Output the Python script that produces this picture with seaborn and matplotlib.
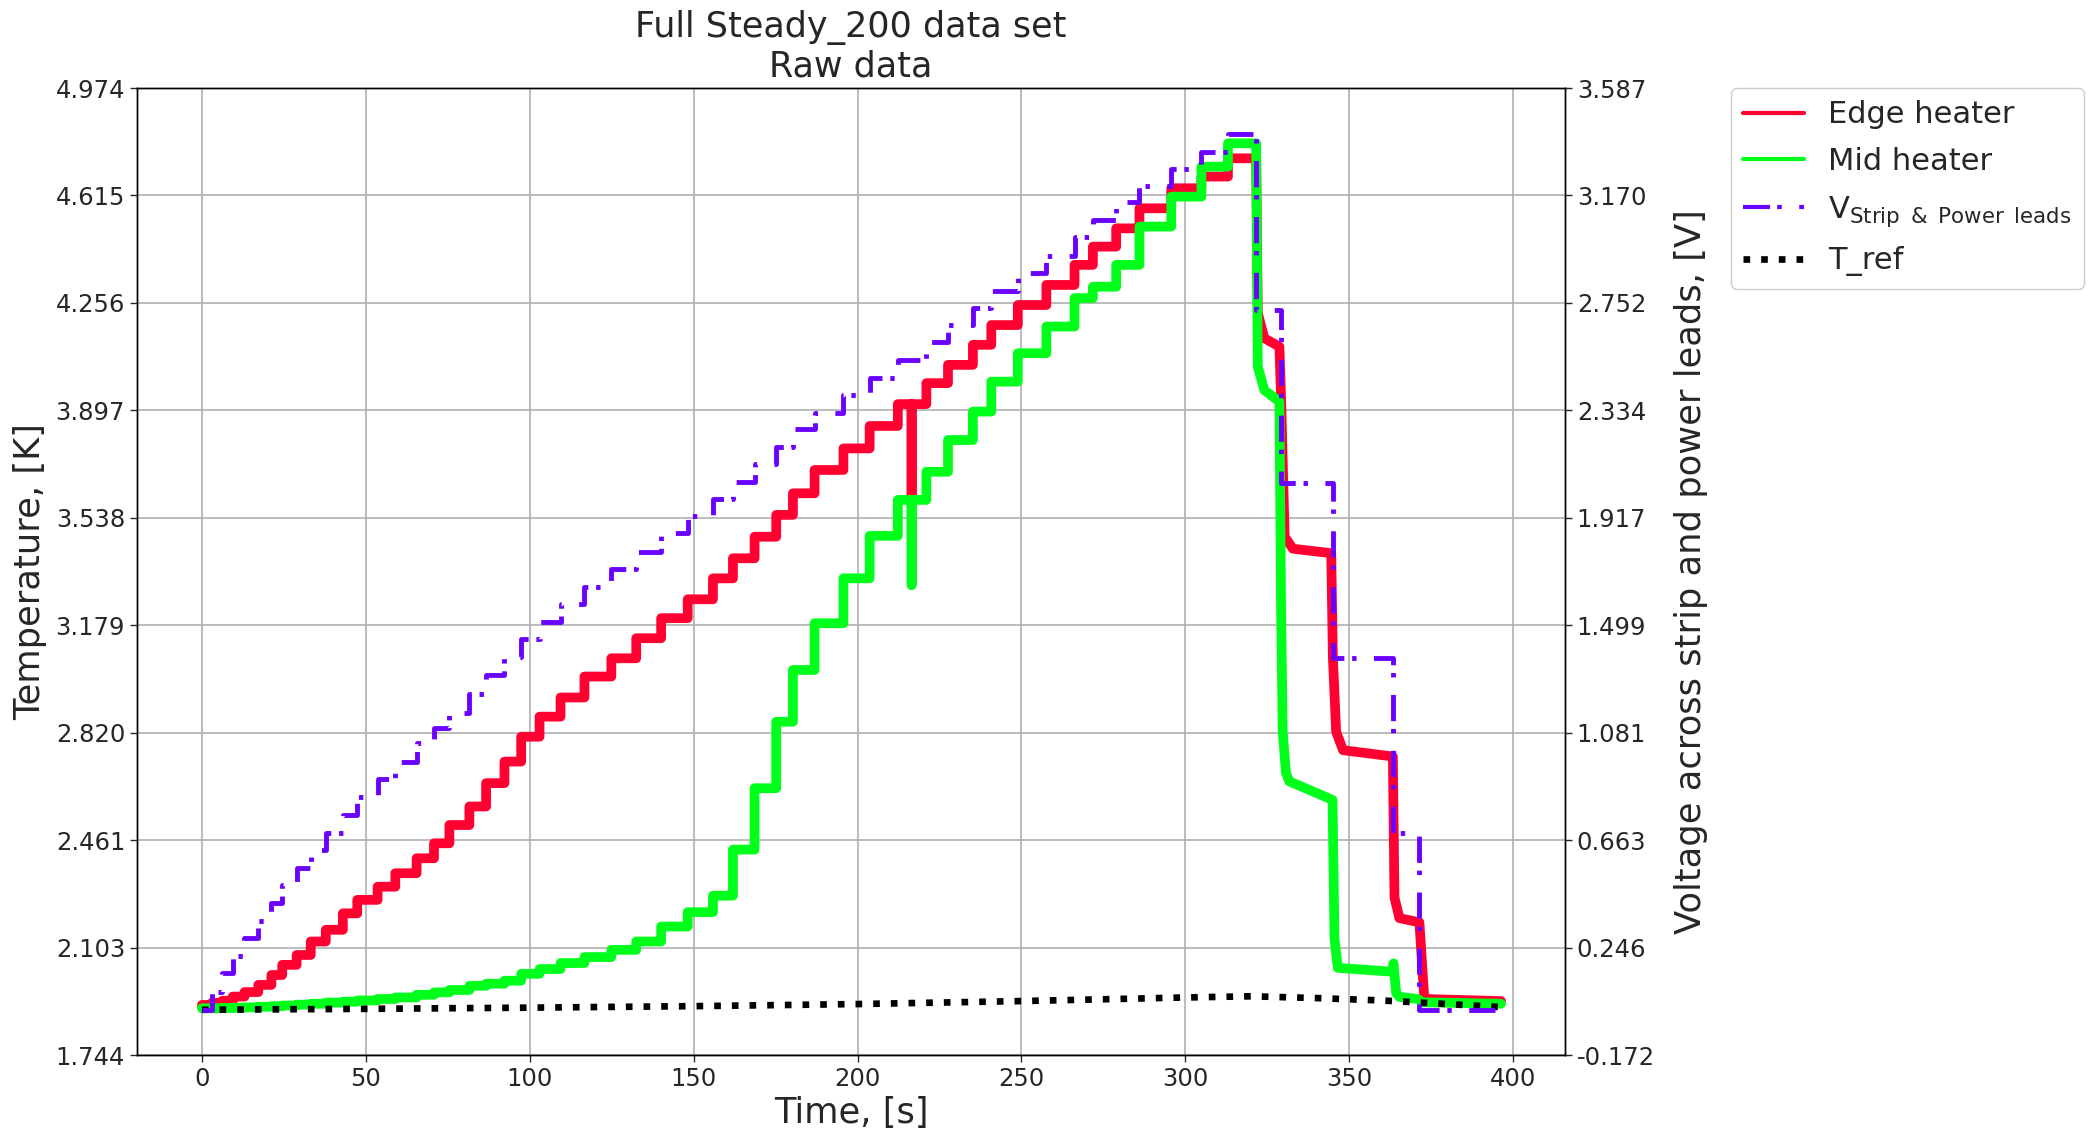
import matplotlib
matplotlib.use("Agg")
import matplotlib.pyplot as plt
import numpy as np
import pandas as pd
import seaborn as sns
from matplotlib.ticker import LinearLocator, FormatStrFormatter, MultipleLocator
from matplotlib.lines import Line2D
from matplotlib.mathtext import MathTextParser

# ---------------- data ----------------
# start times of the current steps during the ramp [s]
step_time = [0, 3, 6.2, 9.4, 13.0, 17.2, 21.2, 24.5, 28.9, 33.2,
             37.8, 43.0, 47.4, 53.6, 59.0, 65.5, 70.8, 75.5, 81.6, 86.7,
             92.3, 97.4, 103.0, 109.4, 116.7, 124.9, 132.5, 140.1, 148.2, 155.9,
             162.0, 168.6, 175.2, 180.3, 186.9, 195.7, 203.7, 212.3, 221.0, 227.6,
             235.2, 240.8, 248.9, 257.6, 266.2, 271.8, 278.9, 286.0, 295.7, 304.9,
             313.0]
ramp_end = 321.4

# Edge heater temperature plateaus [K]
edge_level = [1.911, 1.918, 1.925, 1.939, 1.954, 1.978, 2.011, 2.045, 2.078, 2.123,
              2.162, 2.217, 2.262, 2.306, 2.351, 2.401, 2.451, 2.512, 2.574, 2.652,
              2.724, 2.807, 2.874, 2.938, 3.008, 3.069, 3.136, 3.203, 3.266, 3.336,
              3.403, 3.475, 3.548, 3.620, 3.698, 3.770, 3.845, 3.918, 3.988, 4.049,
              4.116, 4.182, 4.249, 4.316, 4.383, 4.444, 4.505, 4.572, 4.639, 4.678,
              4.739]
# Mid heater temperature plateaus [K]
mid_level = [1.900, 1.900, 1.901, 1.902, 1.903, 1.905, 1.907, 1.909, 1.912, 1.915,
             1.919, 1.922, 1.926, 1.931, 1.936, 1.945, 1.953, 1.961, 1.975, 1.982,
             1.992, 2.015, 2.031, 2.051, 2.071, 2.095, 2.123, 2.173, 2.221, 2.276,
             2.430, 2.635, 2.857, 3.030, 3.186, 3.336, 3.478, 3.598, 3.692, 3.798,
             3.893, 3.993, 4.088, 4.177, 4.272, 4.310, 4.383, 4.511, 4.611, 4.711,
             4.789]
# Voltage across strip & power leads plateaus [V]
volt_level = [0.005, 0.075, 0.146, 0.214, 0.282, 0.350, 0.418, 0.489, 0.557, 0.625,
              0.693, 0.761, 0.832, 0.900, 0.968, 1.040, 1.100, 1.156, 1.230, 1.305,
              1.376, 1.445, 1.512, 1.580, 1.648, 1.716, 1.785, 1.856, 1.923, 1.990,
              2.057, 2.124, 2.193, 2.260, 2.325, 2.394, 2.461, 2.530, 2.601, 2.666,
              2.734, 2.798, 2.869, 2.935, 3.009, 3.074, 3.145, 3.206, 3.271, 3.339,
              3.408]

# short glitch seen on both heater channels
spike_time = 216.5
edge_spike = 3.61
mid_spike = 3.314

# ramp-down part (after the ramp)
edge_tail_t = [321.6, 322.1, 324.1, 328.7, 329.3, 330.3, 332.8, 344.5, 345.0, 346.0,
               348.1, 363.3, 363.8, 365.3, 371.4, 372.9, 396.3]
edge_tail_T = [4.739, 4.222, 4.138, 4.110, 3.900, 3.475, 3.435, 3.420, 3.074, 2.824,
               2.762, 2.741, 2.270, 2.201, 2.187, 1.931, 1.924]
mid_tail_t = [321.6, 322.1, 324.1, 328.7, 329.2, 329.7, 330.7, 331.7, 344.9, 345.5,
              346.5, 363.2, 363.5, 364.3, 365.3, 370.9, 372.4, 396.3]
mid_tail_T = [4.789, 4.043, 3.965, 3.926, 3.240, 2.824, 2.686, 2.658, 2.596, 2.132,
              2.035, 2.022, 2.050, 1.951, 1.938, 1.931, 1.920, 1.915]
volt_tail_t = [321.6, 321.6, 329.3, 329.3, 345.0, 345.0, 363.3, 363.3, 371.4, 371.4, 396.3]
volt_tail_V = [3.408, 2.724, 2.724, 2.052, 2.052, 1.372, 1.372, 0.693, 0.693, 0.005, 0.005]

# reference temperature
tref_t = [0, 50, 100, 150, 200, 250, 300, 320, 340, 360, 380, 396]
tref_T = [1.895, 1.898, 1.902, 1.907, 1.914, 1.924, 1.936, 1.940, 1.934, 1.926, 1.914, 1.904]

# axis limits
temp_lim = (1.7437, 4.97371)
volt_lim = (-0.172, 3.58748)
time_lim = (-19.8, 415.8)

title = "Full Steady_200 data set\nRaw data"

c_edge = "#FF0030"
c_mid = "#00FF1A"
c_volt = "#6A00FF"
c_ref = "black"

# ---------------- style ----------------
sns.set_style("ticks")
plt.rcParams["font.family"] = ["DejaVu Sans"]
plt.rcParams["mathtext.default"] = "regular"
plt.rcParams["axes.linewidth"] = 1.0

# pick a voltage label form that this matplotlib's mathtext accepts
volt_label_candidates = [
    r"V$_{Strip\ \&\ Power\ leads}$",
    r"V$_{\mathrm{Strip\ \&\ Power\ leads}}$",
    r"V$_{Strip~\&~Power~leads}$",
    r"V$_{Strip}$ $_{&}$ $_{Power}$ $_{leads}$",
    r"V$_{Strip}$ $_{\&}$ $_{Power}$ $_{leads}$",
]
volt_label = "V Strip & Power leads"
_parser = MathTextParser("path")
for cand in volt_label_candidates:
    try:
        for seg in cand.split("$")[1::2]:
            _parser.parse("$" + seg + "$", 72, matplotlib.font_manager.FontProperties(size=12))
        volt_label = cand
        break
    except Exception:
        continue

labels = ["Edge heater", "Mid heater", volt_label, "T_ref"]


def staircase(times, levels, end, tail_t, tail_v, spike=None):
    xs, ys = [], []
    bounds = list(times[1:]) + [end]
    for t0, t1, v in zip(times, bounds, levels):
        if spike is not None and t0 <= spike[0] < t1:
            xs += [t0, spike[0], spike[0], spike[0], t1]
            ys += [v, v, spike[1], v, v]
        else:
            xs += [t0, t1]
            ys += [v, v]
    xs += list(tail_t)
    ys += list(tail_v)
    return pd.DataFrame({"t": xs, "v": ys})


edge_df = staircase(step_time, edge_level, ramp_end, edge_tail_t, edge_tail_T,
                    (spike_time, edge_spike))
mid_df = staircase(step_time, mid_level, ramp_end, mid_tail_t, mid_tail_T,
                   (spike_time, mid_spike))
volt_df = staircase(step_time, volt_level, ramp_end, volt_tail_t, volt_tail_V)
tref_df = pd.DataFrame({"t": tref_t, "v": tref_T})

# ---------------- plot ----------------
fig = plt.figure(figsize=(20.88, 11.33), dpi=100)
ax = fig.add_axes([0.0656, 0.0688, 0.6839, 0.8535])
ax2 = ax.twinx()

sns.lineplot(data=edge_df, x="t", y="v", ax=ax, sort=False, estimator=None,
             color=c_edge, lw=7, legend=False)
sns.lineplot(data=mid_df, x="t", y="v", ax=ax, sort=False, estimator=None,
             color=c_mid, lw=7, legend=False)
sns.lineplot(data=tref_df, x="t", y="v", ax=ax, sort=False, estimator=None,
             color=c_ref, lw=4.8, linestyle=":", legend=False)
sns.lineplot(data=volt_df, x="t", y="v", ax=ax2, sort=False, estimator=None,
             color=c_volt, lw=3.5, linestyle=(0, (5.4, 1.6, 0.9, 3.6)), legend=False)

ax.set_xlim(*time_lim)
ax.set_ylim(*temp_lim)
ax2.set_ylim(*volt_lim)
ax.xaxis.set_major_locator(MultipleLocator(50))
for a in (ax, ax2):
    a.yaxis.set_major_locator(LinearLocator(10))
    a.yaxis.set_major_formatter(FormatStrFormatter("%.3f"))
    a.tick_params(axis="both", labelsize=17.5, length=5, width=1)
    for s in a.spines.values():
        s.set_visible(True)
        s.set_color("black")
        s.set_linewidth(1.0)

ax.grid(True, color="#b0b0b0", lw=1.2)
ax.set_axisbelow(True)

ax.set_xlabel("Time, [s]", fontsize=25.4, labelpad=4)
ax.set_ylabel("Temperature, [K]", fontsize=25.4, labelpad=6)
ax2.set_ylabel("Voltage across strip and power leads, [V]", fontsize=25.4, labelpad=14)
ax.set_title(title, fontsize=25.2, pad=8)

handles = [
    Line2D([], [], color=c_edge, lw=3),
    Line2D([], [], color=c_mid, lw=3),
    Line2D([], [], color=c_volt, lw=3, linestyle=(0, (6.5, 1.7, 1.1, 4.2))),
    Line2D([], [], color=c_ref, lw=4.8, linestyle=":"),
]
leg = ax2.legend(handles, labels, loc="upper left", bbox_to_anchor=(1.116, 1.0),
                 borderaxespad=0, fontsize=22, frameon=True, fancybox=True,
                 edgecolor="0.8", framealpha=1.0, labelspacing=0.58)

fig.savefig("out.png", dpi=100)
